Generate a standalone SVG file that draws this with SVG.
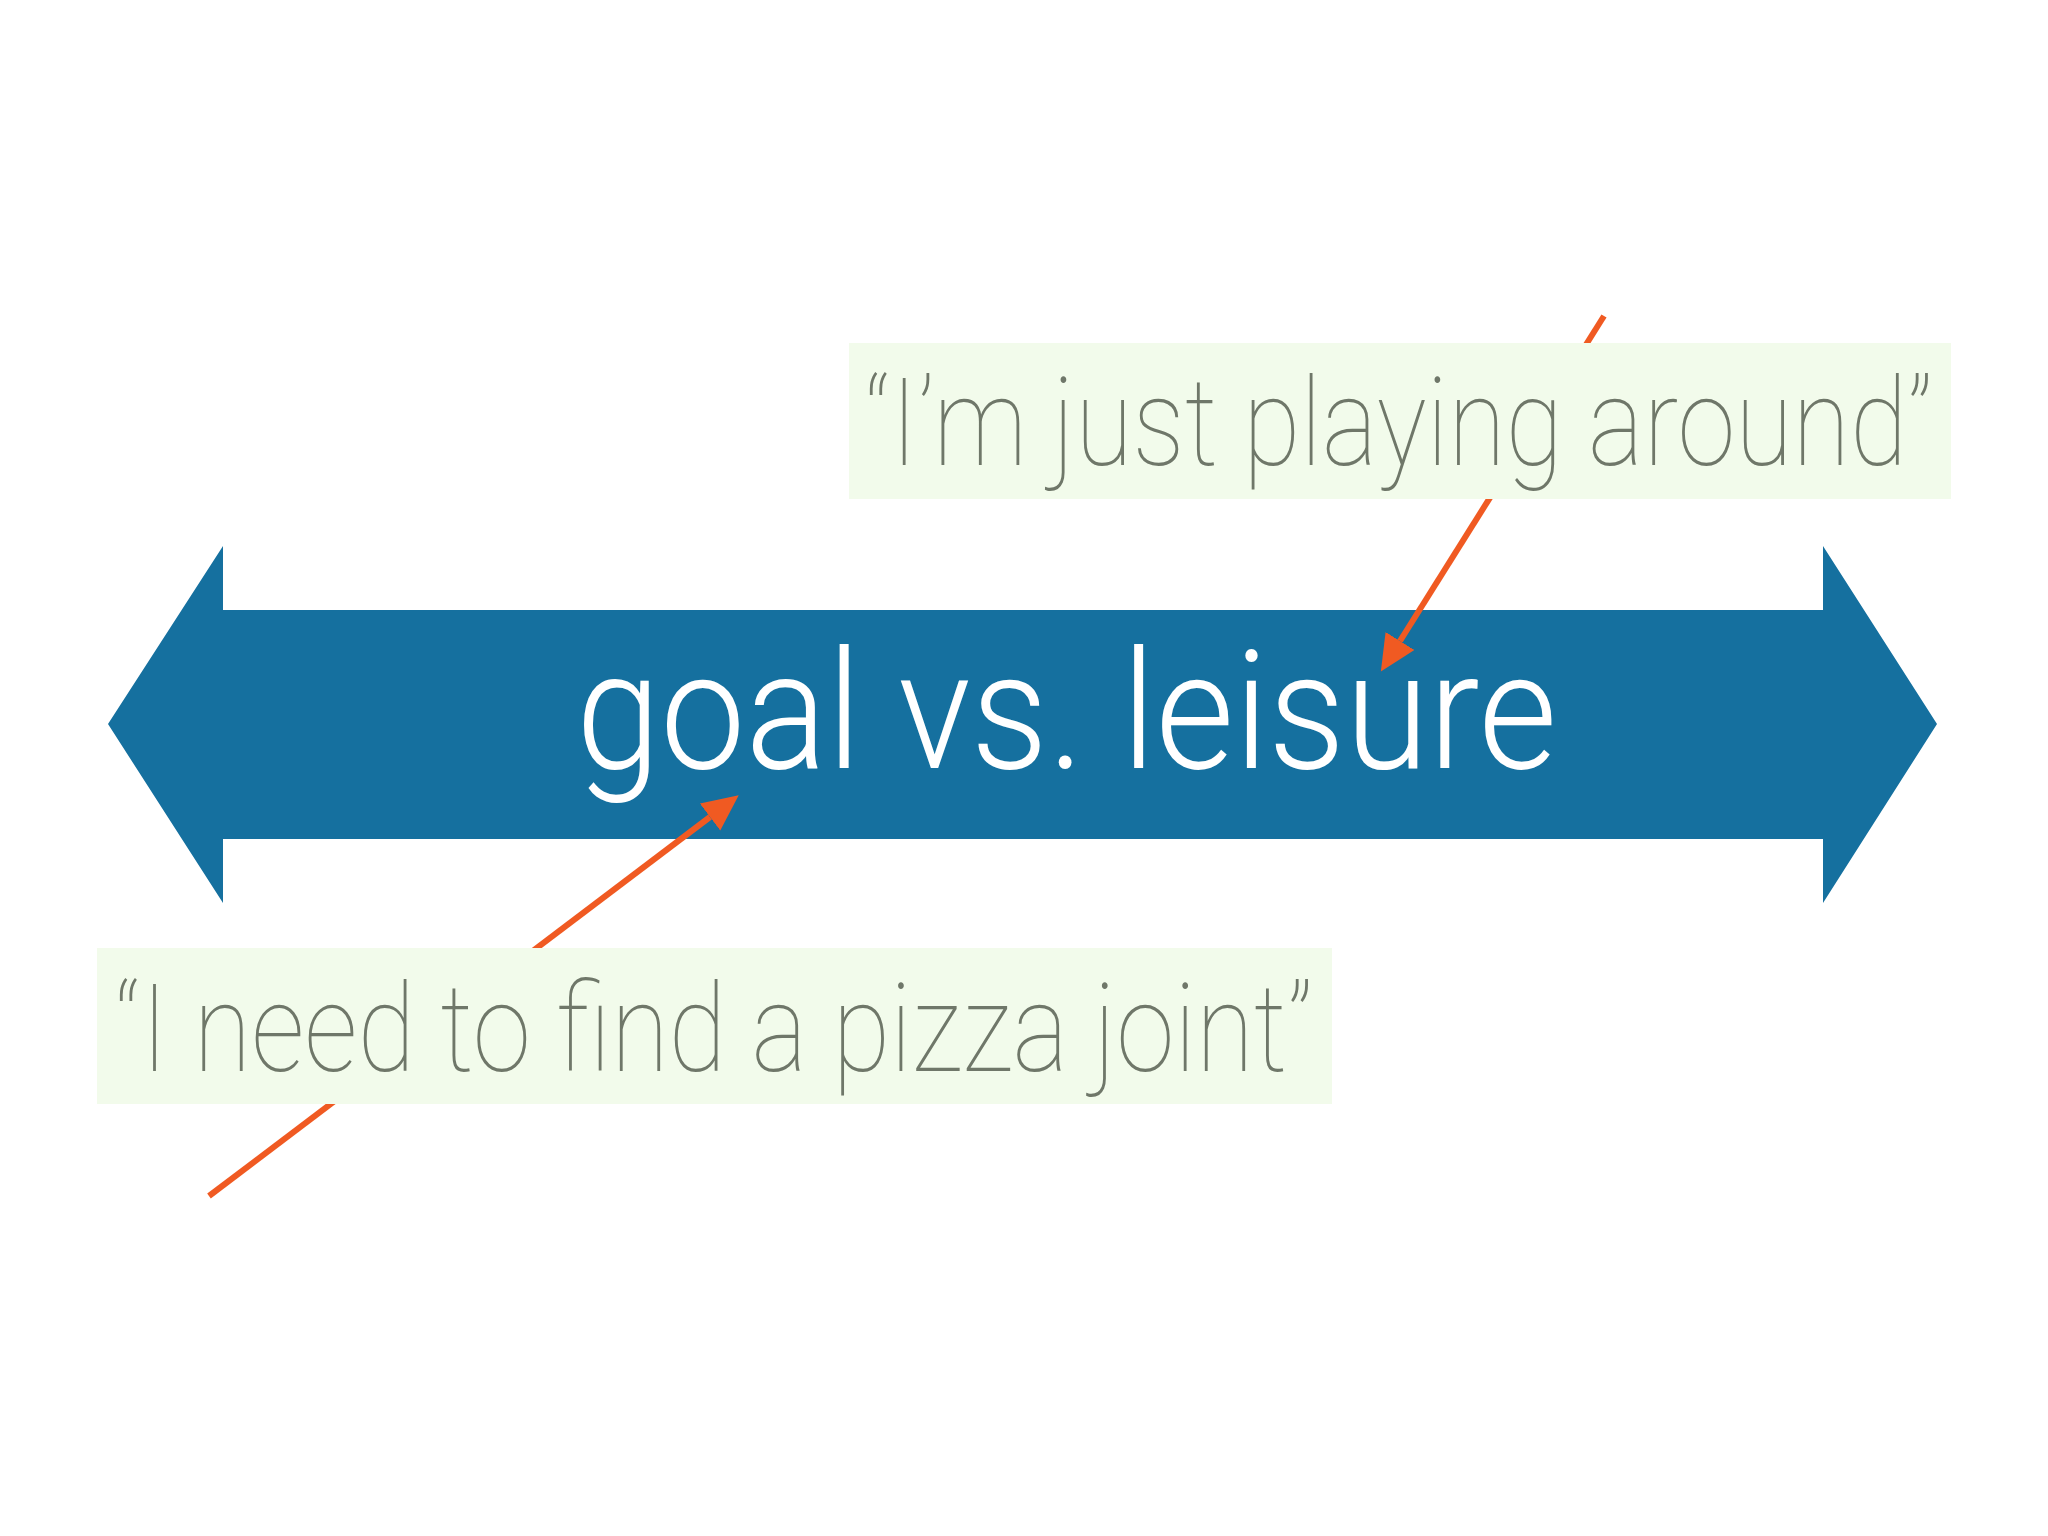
<svg xmlns="http://www.w3.org/2000/svg" width="2048" height="1536" viewBox="0 0 2048 1536">
<style>
.quote{font-family:Roboto,"Liberation Sans",sans-serif;font-weight:100;font-size:122px;fill:#6f7769}
.main{font-family:Roboto,"Liberation Sans",sans-serif;font-weight:300;font-size:166px;fill:#ffffff}
.box{fill:#f2fbeb}
.conn{stroke:#f05a22;stroke-width:6;fill:none}
</style>
<defs>
<marker id="ah" markerUnits="userSpaceOnUse" markerWidth="40" markerHeight="36" refX="0" refY="17" orient="auto">
<path d="M0,0 L36,17 L0,34 z" fill="#f05a22"/>
</marker>
</defs>
<rect width="2048" height="1536" fill="#ffffff"/>
<g id="axis">
<polygon points="108,724 223,546 223,610 1823,610 1823,546 1937,724 1823,903 1823,839 223,839 223,903" fill="#15709f"/>
<text class="main" x="576" y="768" textLength="981" lengthAdjust="spacingAndGlyphs">goal vs. leisure</text>
</g>
<g id="connectors">
<line class="conn" x1="1604" y1="316" x2="1400" y2="641" marker-end="url(#ah)"/>
<line class="conn" x1="209" y1="1196" x2="710" y2="817" marker-end="url(#ah)"/>
</g>
<g id="leisure-quote">
<rect class="box" x="849" y="343" width="1102" height="156"/>
<text class="quote" x="865" y="465" textLength="1068" lengthAdjust="spacingAndGlyphs">“I’m just playing around”</text>
</g>
<g id="goal-quote">
<rect class="box" x="97" y="948" width="1235" height="156"/>
<text class="quote" x="115" y="1071" textLength="1198" lengthAdjust="spacingAndGlyphs">“I need to find a pizza joint”</text>
</g>
</svg>
